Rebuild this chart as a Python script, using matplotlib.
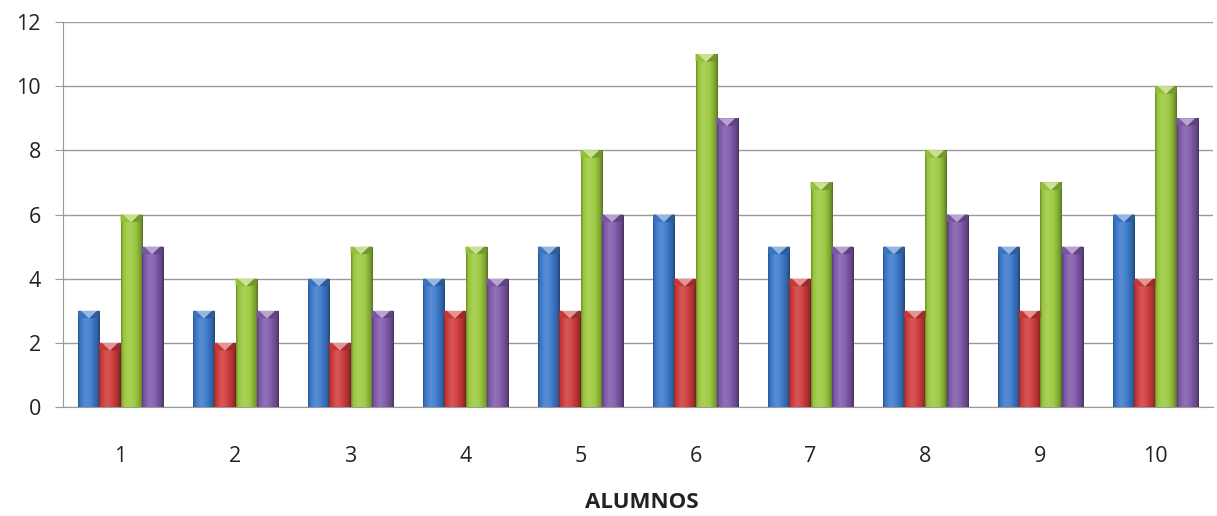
import numpy as np
import matplotlib
matplotlib.use("Agg")
import matplotlib.pyplot as plt
from matplotlib.colors import to_rgb
from matplotlib.patches import Polygon

# Scores per student for the four series
alumnos = ["1", "2", "3", "4", "5", "6", "7", "8", "9", "10"]
serie_a = [3, 3, 4, 4, 5, 6, 5, 5, 5, 6]
serie_b = [2, 2, 2, 3, 3, 4, 4, 3, 3, 4]
serie_c = [6, 4, 5, 5, 8, 11, 7, 8, 7, 10]
serie_d = [5, 3, 3, 4, 6, 9, 5, 6, 5, 9]
y_ticks = [0, 2, 4, 6, 8, 10, 12]

series = [serie_a, serie_b, serie_c, serie_d]
colors = ["#3c7acb", "#cf3b3b", "#9bc93e", "#7f5aaa"]

plt.rcParams["font.family"] = ["Open Sans", "DejaVu Sans"]

fig = plt.figure(figsize=(12.17, 5.16), dpi=100)
ax = fig.add_axes([0.0518, 0.2112, 0.9449, 0.7462])

x = np.arange(len(alumnos))
bw = 0.183
offsets = (np.arange(len(series)) - 1.5) * bw


def shade(c, f):
    r = np.array(to_rgb(c))
    if f >= 0:
        return r + (1 - r) * f
    return r * (1 + f)


# horizontal cylinder-like shading profile across a bar
prof_x = np.linspace(0, 1, 64)
prof = np.interp(prof_x, [0, 0.08, 0.35, 0.6, 0.9, 1.0],
                 [-0.35, -0.05, 0.15, 0.05, -0.22, -0.45])

for vals, col, off in zip(series, colors, offsets):
    bars = ax.bar(x + off, vals, width=bw, color=col, zorder=3,
                  linewidth=0)
    grad = np.array([shade(col, f) for f in prof])[None, :, :]
    for b in bars:
        bx, by = b.get_x(), b.get_y()
        w, h = b.get_width(), b.get_height()
        im = ax.imshow(grad, extent=[bx, bx + w, by, by + h],
                       aspect="auto", zorder=3.5, interpolation="bicubic")
        im.set_clip_path(b)
        # bevelled top: a light chevron along the upper edge
        top = by + h
        d = 0.24
        ax.add_patch(Polygon([[bx, top], [bx + w * 0.12, top],
                              [bx + w * 0.5, top - d], [bx, top - d * 0.9]],
                             closed=True, facecolor=shade(col, -0.05),
                             edgecolor="none", zorder=4))
        ax.add_patch(Polygon([[bx + w, top], [bx + w * 0.88, top],
                              [bx + w * 0.5, top - d], [bx + w, top - d * 0.9]],
                             closed=True, facecolor=shade(col, -0.25),
                             edgecolor="none", zorder=4))
        ax.add_patch(Polygon([[bx + w * 0.12, top], [bx + w * 0.88, top],
                              [bx + w * 0.5, top - d]], closed=True,
                             facecolor=shade(col, 0.45), edgecolor="none",
                             zorder=4.2))

ax.set_xlim(-0.5, len(alumnos) - 0.5)
ax.set_ylim(0, 12)
ax.set_yticks(y_ticks)
ax.set_yticklabels([str(t) for t in y_ticks])
ax.set_xticks(x)
ax.set_xticklabels(alumnos)

ax.grid(axis="y", color="#9a9a9a", linewidth=1.0, zorder=0)
ax.set_axisbelow(True)
for s in ["top", "right"]:
    ax.spines[s].set_visible(False)
ax.spines["left"].set_color("#9a9a9a")
ax.spines["bottom"].set_color("#9a9a9a")
ax.tick_params(axis="y", length=6, color="#9a9a9a", pad=10,
               labelsize=15.5, labelcolor="#222222")
ax.tick_params(axis="x", length=0, pad=28, labelsize=15.5,
               labelcolor="#222222")

fig.text(0.527, 1 - 503 / 516, "ALUMNOS", fontsize=16, fontweight="bold",
         ha="center", va="center", color="#222222")

fig.savefig("out.png", dpi=100)
